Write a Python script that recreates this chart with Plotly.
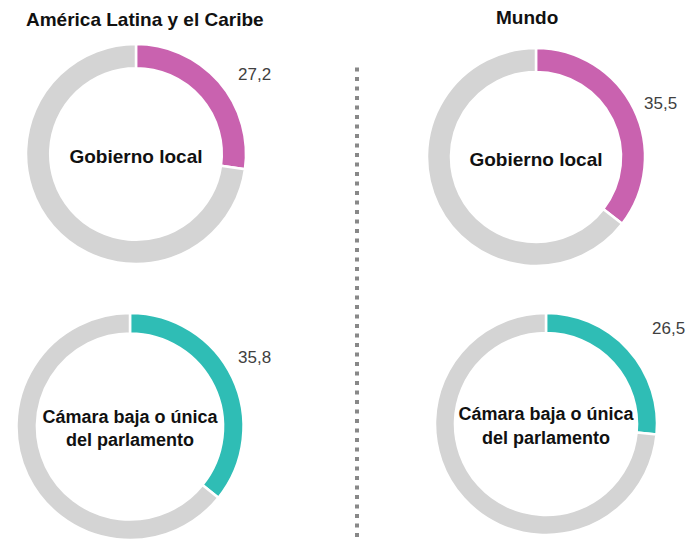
import plotly.graph_objects as go

regions = ["América Latina y el Caribe", "Mundo"]
indicators = ["Gobierno local", "Cámara baja o única<br>del parlamento"]
share_labels = ["Mujeres", "Hombres"]
# women's share (%) by indicator (rows) and region (cols)
values = {
    ("Gobierno local", "América Latina y el Caribe"): 27.2,
    ("Gobierno local", "Mundo"): 35.5,
    ("Cámara baja o única<br>del parlamento", "América Latina y el Caribe"): 35.8,
    ("Cámara baja o única<br>del parlamento", "Mundo"): 26.5,
}
colors_ind = {"Gobierno local": "#C962AF", "Cámara baja o única<br>del parlamento": "#2FBDB5"}
rest_color = "#D4D4D4"

W, H = 689, 540

def px_dom(x0, x1, ytop, ybot):
    return dict(x=[x0 / W, x1 / W], y=[max(0, (H - ybot) / H), (H - ytop) / H])

domains = {
    ("Gobierno local", "América Latina y el Caribe"): px_dom(26, 246, 44, 264),
    ("Gobierno local", "Mundo"): px_dom(427, 645, 48, 266),
    ("Cámara baja o única<br>del parlamento", "América Latina y el Caribe"): px_dom(16, 244, 313, 541),
    ("Cámara baja o única<br>del parlamento", "Mundo"): px_dom(435, 657, 313, 535),
}
holes = {"Gobierno local": 0.78, "Cámara baja o única<br>del parlamento": 0.82}
center_font = {"Gobierno local": 19, "Cámara baja o única<br>del parlamento": 18}
label_pos = {
    ("Gobierno local", "América Latina y el Caribe"): (255, 74),
    ("Gobierno local", "Mundo"): (660, 103),
    ("Cámara baja o única<br>del parlamento", "América Latina y el Caribe"): (254, 357),
    ("Cámara baja o única<br>del parlamento", "Mundo"): (668, 328),
}

fig = go.Figure()
annotations = []
for ind in indicators:
    for reg in regions:
        v = values[(ind, reg)]
        fig.add_trace(go.Pie(
            labels=share_labels,
            values=[v, 100 - v],
            sort=False,
            direction="clockwise",
            rotation=0,
            hole=holes[ind],
            domain=domains[(ind, reg)],
            marker=dict(colors=[colors_ind[ind], rest_color], line=dict(color="white", width=2.5)),
            textinfo="none",
            hoverinfo="label+value",
            showlegend=False,
            title=dict(text="<b>" + ind + "</b>", position="middle center",
                       font=dict(family="Liberation Sans, Arial", size=center_font[ind], color="#111111")),
        ))
        lx, ly = label_pos[(ind, reg)]
        annotations.append(dict(
            x=lx / W, y=(H - ly) / H, xref="paper", yref="paper",
            text=f"{v:.1f}".replace(".", ","), showarrow=False,
            font=dict(family="Liberation Sans, Arial", size=17, color="#404040"),
            xanchor="center", yanchor="middle",
        ))

title_pos = {"América Latina y el Caribe": (145, 19), "Mundo": (527, 18)}
for reg in regions:
    tx, ty = title_pos[reg]
    annotations.append(dict(
        x=tx / W, y=(H - ty) / H, xref="paper", yref="paper",
        text="<b>" + reg + "</b>", showarrow=False,
        font=dict(family="Liberation Sans, Arial", size=19, color="#111111"),
        xanchor="center", yanchor="middle",
    ))

fig.update_layout(
    width=W, height=H,
    margin=dict(l=0, r=0, t=0, b=0),
    paper_bgcolor="white",
    plot_bgcolor="white",
    annotations=annotations,
    shapes=[dict(type="line", xref="paper", yref="paper",
                 x0=357 / W, x1=357 / W, y0=3 / H, y1=(H - 65) / H,
                 line=dict(color="#888888", width=4, dash="4px,5.5px"))],
)

fig.write_html("out.html", config={"displayModeBar": False},
               post_script="document.body.style.margin='0';document.body.style.overflow='hidden';")
